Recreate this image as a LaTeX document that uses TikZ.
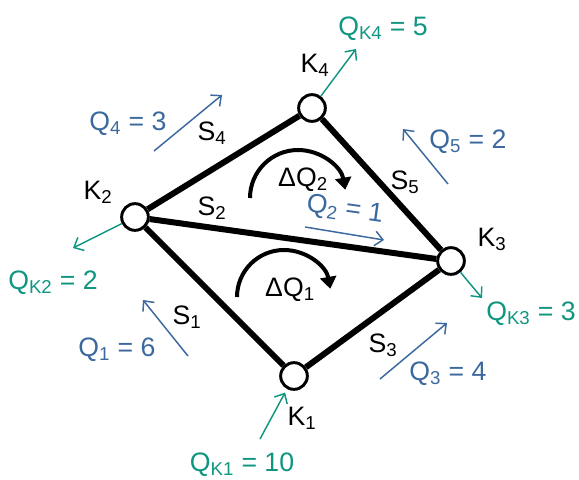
\documentclass[tikz,border=0pt]{standalone}
\usepackage{fontspec}
\setmainfont{Liberation Sans}
\usetikzlibrary{arrows.meta}
\definecolor{flowblue}{RGB}{59,105,158}
\definecolor{nodeteal}{RGB}{16,150,128}

\begin{document}
\begin{tikzpicture}[x=0.75pt,y=-0.75pt,
  every node/.style={font=\fontsize{20}{24}\selectfont},
  junction/.style={circle,draw,line width=2.2pt,fill=white,minimum size=20pt,inner sep=0pt},
  pipe/.style={line width=4.5pt},
  flow/.style={flowblue,line width=1.1pt,-{Straight Barb[length=6pt,width=11pt]}},
  supply/.style={nodeteal,line width=1.1pt,-{Straight Barb[length=6pt,width=11pt]}},
  mesh/.style={line width=3pt,-{Triangle[length=9pt,width=12pt]}}]
  \useasboundingbox (0,0) rectangle (579,479);

  \node[junction] (K1) at (294,376) {};
  \node[junction] (K2) at (135,217) {};
  \node[junction] (K3) at (451,261) {};
  \node[junction] (K4) at (312,108) {};
  \draw[pipe] (K2) -- (K4) (K4) -- (K3) (K3) -- (K1) (K1) -- (K2) (K2) -- (K3);

  \node (lK1) at (302,418) {K\textsubscript{1}};
  \node (lK2) at (98,192) {K\textsubscript{2}};
  \node (lK3) at (492,239) {K\textsubscript{3}};
  \node (lK4) at (315,65) {K\textsubscript{4}};

  \node (S1) at (187,317) {S\textsubscript{1}};
  \node (S2) at (212,208) {S\textsubscript{2}};
  \node (S3) at (383,345) {S\textsubscript{3}};
  \node (S4) at (212,133) {S\textsubscript{4}};
  \node (S5) at (405,182) {S\textsubscript{5}};

  \coordinate (q1a) at (188,356); \coordinate (q1b) at (143,300);
  \coordinate (q2a) at (305,227); \coordinate (q2b) at (384,240);
  \coordinate (q3a) at (380,379); \coordinate (q3b) at (447,323);
  \coordinate (q4a) at (154,151); \coordinate (q4b) at (222,95);
  \coordinate (q5a) at (448,184); \coordinate (q5b) at (403,129);
  \draw[flow] (q1a) -- (q1b);
  \draw[flow] (q2a) -- (q2b);
  \draw[flow] (q3a) -- (q3b);
  \draw[flow] (q4a) -- (q4b);
  \draw[flow] (q5a) -- (q5b);
  \node[text=flowblue] (Q1) at (117,350) {Q\textsubscript{1} = 6};
  \node[text=flowblue,rotate=-8] (Q2) at (345,210) {Q\textsubscript{2} = 1};
  \node[text=flowblue] (Q3) at (448,374) {Q\textsubscript{3} = 4};
  \node[text=flowblue] (Q4) at (128,124) {Q\textsubscript{4} = 3};
  \node[text=flowblue] (Q5) at (468,142) {Q\textsubscript{5} = 2};

  \coordinate (qk1) at (260,439);
  \coordinate (qk2) at (73,248);
  \coordinate (qk3) at (482,298);
  \coordinate (qk4) at (356,49);
  \draw[supply,shorten >=3pt] (qk1) -- (K1);
  \draw[supply] (K2) -- (qk2);
  \draw[supply] (K3) -- (qk3);
  \draw[supply] (K4) -- (qk4);
  \node[text=nodeteal] (QK1) at (242,465) {Q\textsubscript{K1} = 10};
  \node[text=nodeteal] (QK2) at (53,283) {Q\textsubscript{K2} = 2};
  \node[text=nodeteal] (QK3) at (531,314) {Q\textsubscript{K3} = 3};
  \node[text=nodeteal] (QK4) at (383,29) {Q\textsubscript{K4} = 5};

  \coordinate (dq1) at (237,297);
  \coordinate (dq2) at (250,198);
  \draw[mesh] (dq1) arc[start angle=180,end angle=350,radius=47];
  \draw[mesh] (dq2) arc[start angle=180,end angle=350,radius=48];
  \node (DQ1) at (290,290) {ΔQ\textsubscript{1}};
  \node (DQ2) at (303,180) {ΔQ\textsubscript{2}};
\end{tikzpicture}
\end{document}
